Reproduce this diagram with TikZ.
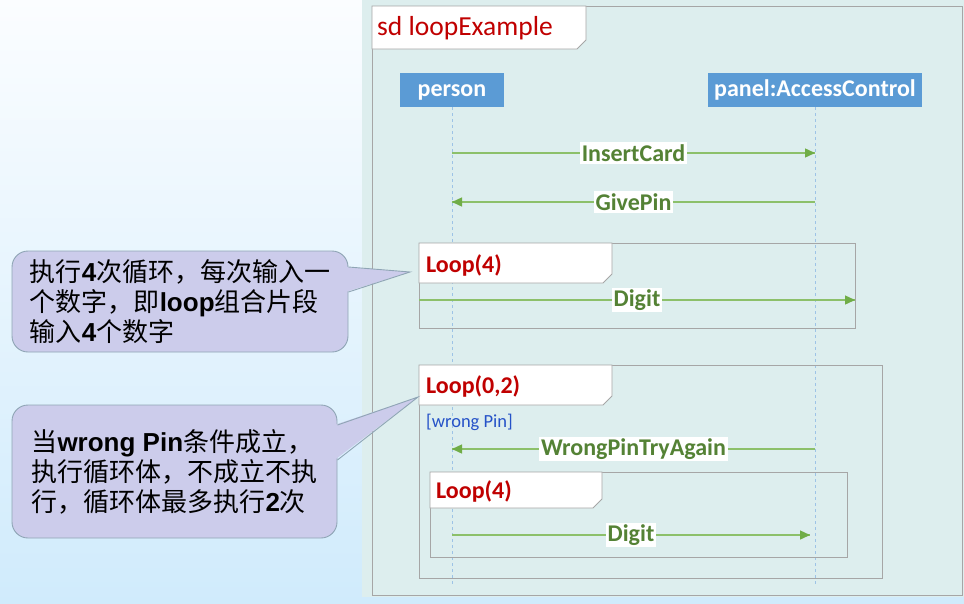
\documentclass[tikz,border=0pt]{standalone}
\usepackage{fontspec}
\setmainfont{Carlito}
\newfontfamily\cjk{Noto Sans CJK SC}
\newfontfamily\arialfont{Liberation Sans}
\newcommand{\latb}[1]{{\arialfont\bfseries #1}}
\definecolor{bgtop}{HTML}{FBFDFF}
\definecolor{bgbottom}{HTML}{D0EBFC}
\definecolor{sdback}{HTML}{DDEEEE}
\definecolor{framegray}{HTML}{A6A6A6}
\definecolor{namered}{HTML}{C00000}
\definecolor{lifeblue}{HTML}{5B9BD5}
\definecolor{dashblue}{HTML}{9DC3E6}
\definecolor{msggreen}{HTML}{8CC06A}
\definecolor{tipgreen}{HTML}{70AD47}
\definecolor{labelgreen}{HTML}{548235}
\definecolor{guardblue}{HTML}{2552C8}
\definecolor{notefill}{HTML}{CCCCEB}
\definecolor{noteline}{HTML}{8FA5B5}
\usetikzlibrary{calc,arrows.meta,decorations.markings}
\tikzset{msg/.style = {draw=msggreen, line width=1.4pt,
    decoration={markings, mark=at position 1 with {\arrow[tipgreen]{Triangle[length=10pt,width=9pt]}}},
    postaction={decorate}}}

\begin{document}
\begin{tikzpicture}[x=1pt,y=-1pt,
    lifehead/.style={fill=lifeblue, text=white, inner sep=0pt, minimum height=34pt,
        text height=17pt, text depth=5pt,
        font={\bfseries\fontsize{24}{28}\selectfont}},
    life/.style={dashblue, dashed, line width=0.9pt},
    msglabel/.style={fill=white, text=labelgreen, inner sep=2pt,
        font={\bfseries\fontsize{24}{28}\selectfont}},
    fragment/.style={draw=framegray, line width=0.9pt},
    fragname/.style={anchor=west, text=namered, inner sep=0pt,
        font={\bfseries\fontsize{24}{28}\selectfont}},
    note/.style={draw=noteline, fill=notefill, line width=0.9pt, rounded corners=16pt,
        align=left, inner sep=0pt, font={\cjk\fontsize{26}{30}\selectfont}},
    ]
    \useasboundingbox (0,0) rectangle (964,603);

    % Background
    \shade[top color=bgtop, bottom color=bgbottom] (0,0) rectangle (964,603);
    \fill[sdback] (362,0) rectangle (964,597);

    % Outer frame
    \draw[fragment] (372,6) rectangle (962,595);
    \draw[fragment, fill=white] (372,6) -- (586,6) -- (586,40) -- (577,49) -- (372,49) -- cycle;
    \node[anchor=west, text=namered, inner sep=0pt, font=\fontsize{27.5}{30}\selectfont]
        (sdname) at (377,28) {sd loopExample};

    % Lifelines
    \node[lifehead, minimum width=104pt] (person) at (452,90) {person};
    \node[lifehead, minimum width=214pt] (panel) at (815,90) {panel:AccessControl};
    \coordinate (personend) at (452,586);
    \coordinate (panelend) at (815,586);
    \draw[life] (person.south) -- (personend);
    \draw[life] (panel.south) -- (panelend);

    % Message end points
    \coordinate (person1) at (452,153);
    \coordinate (panel1) at (815,153);
    \coordinate (person2) at (452,202);
    \coordinate (panel2) at (815,202);
    \coordinate (person4) at (452,449);
    \coordinate (panel4) at (815,449);
    \coordinate (person5) at (452,535);
    \coordinate (panel5) at (810,535);

    \draw[msg] (person1) -- (panel1) node[msglabel, midway] (insert) {InsertCard};
    \draw[msg] (panel2) -- (person2) node[msglabel, midway] (givepin) {GivePin};

    % Loop(4)
    \draw[fragment] (419,243) rectangle (855,328);
    \draw[fragment, fill=white] (419,243) -- (612,243) -- (612,274) -- (603,283) -- (419,283) -- cycle;
    \node[fragname] (loopa) at (426,265) {Loop(4)};
    \coordinate (loopain) at (419,300);
    \coordinate (loopaout) at (855,300);
    \draw[msg] (loopain) -- (loopaout) node[msglabel, midway] (digita) {Digit};

    % Loop(0,2)
    \draw[fragment] (419,365) rectangle (882,578);
    \draw[fragment, fill=white] (419,365) -- (612,365) -- (612,396) -- (603,405) -- (419,405) -- cycle;
    \node[fragname] (loopb) at (426,386) {Loop(0,2)};
    \node[anchor=west, text=guardblue, inner sep=0pt, font=\fontsize{18.5}{21}\selectfont]
        (guard) at (426,422) {[wrong Pin]};
    \draw[msg] (panel4) -- (person4) node[msglabel, midway] (tryagain) {WrongPinTryAgain};

    % Inner Loop(4)
    \draw[fragment] (430,472) rectangle (847,557);
    \draw[fragment, fill=white] (430,472) -- (602,472) -- (602,499) -- (593,508) -- (430,508) -- cycle;
    \node[fragname] (loopc) at (436,491) {Loop(4)};
    \draw[msg] (person5) -- (panel5) node[msglabel, midway] (digitc) {Digit};

    % Notes
    \node[note, minimum width=336pt, minimum height=101pt] (note1) at (180,301.5)
        {执行\latb{4}次循环，每次输入一\\个数字，即\latb{loop}组合片段\\输入\latb{4}个数字};
    \coordinate (tip1) at (410,272);
    \path (note1.east) ++(0,-34.5) coordinate (base1a) ++(0,25) coordinate (base1b);
    \fill[notefill] ([xshift=-3pt]base1a) -- (tip1) -- ([xshift=-3pt]base1b) -- cycle;
    \draw[noteline, line width=0.9pt] (base1a) -- (tip1) -- (base1b);

    \node[note, minimum width=325pt, minimum height=133pt] (note2) at (174.5,471.5)
        {当\latb{wrong Pin}条件成立，\\执行循环体，不成立不执\\行，循环体最多执行\latb{2}次};
    \coordinate (tip2) at (418,397);
    \path (note2.east) ++(0,-46.5) coordinate (base2a) ++(0,35) coordinate (base2b);
    \fill[notefill] ([xshift=-3pt]base2a) -- (tip2) -- ([xshift=-3pt]base2b) -- cycle;
    \draw[noteline, line width=0.9pt] (base2a) -- (tip2) -- (base2b);

\end{tikzpicture}
\end{document}
